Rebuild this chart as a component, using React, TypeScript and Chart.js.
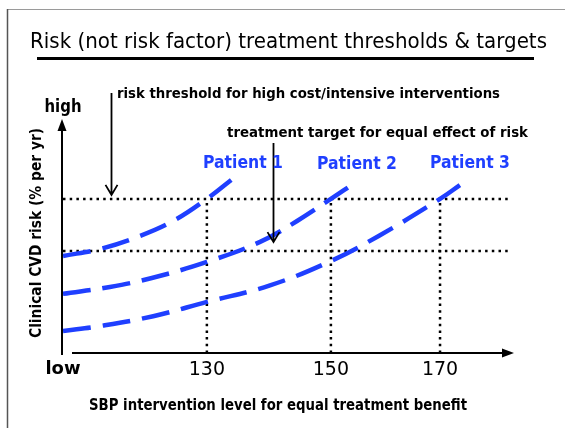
import React, { useEffect, useRef } from "react";
import { Chart, registerables } from "chart.js";

Chart.register(...registerables);

// ---------- texts ----------
const TITLE = "Risk (not risk factor) treatment thresholds & targets";
const X_TITLE = "SBP intervention level for equal treatment benefit";
const Y_TITLE = "Clinical CVD risk (% per yr)";
const Y_TOP_LABEL = "high";
const THRESHOLD_NOTE = "risk threshold for high cost/intensive interventions";
const TARGET_NOTE = "treatment target for equal effect of risk";

// ---------- axis ticks (x in relative position units 0..100) ----------
const xTickLabels = ["low", "130", "150", "170"];
const xTickPositions = [0, 31.9, 59.4, 83.6];

// ---------- risk levels (y in relative units 0..100) ----------
const highThreshold = 67.0;
const treatmentTarget = 44.3;
const thresholdLineEnd = 99.5;

// ---------- patient curves ----------
const patientNames = ["Patient 1", "Patient 2", "Patient 3"];
const patient1X = [0, 8.2, 17.1, 24.8, 31.9, 37.3];
const patient1Y = [42.2, 45.2, 50.9, 57.8, 67.0, 75.2];
const patient2X = [0, 10.4, 19.7, 31.9, 43.7, 51.9, 59.4, 64.1];
const patient2Y = [25.7, 28.7, 32.6, 39.6, 48.3, 57.4, 67.0, 73.2];
const patient3X = [0, 8.2, 20, 31.9, 45.9, 59.4, 70, 83.6, 88.0];
const patient3Y = [9.6, 11.7, 16.0, 22.2, 29.4, 40.0, 50.9, 67.0, 73.0];

// arrows' x positions (relative units)
const thresholdArrowX = 10.6;
const targetArrowX = 46.6;

const FONT = '"DejaVu Sans", "Lucida Grande", sans-serif';
const BLUE = "#1f3fff";

const zip = (xs: number[], ys: number[]) => xs.map((x, i) => ({ x, y: ys[i] }));

type TextOpts = {
  size: number;
  weight?: string;
  color?: string;
  align?: CanvasTextAlign;
  width?: number;
  baseline?: CanvasTextBaseline;
  rotate?: number;
};

function drawText(ctx: CanvasRenderingContext2D, text: string, x: number, y: number, o: TextOpts) {
  ctx.save();
  ctx.font = `${o.weight || "normal"} ${o.size}px ${FONT}`;
  ctx.fillStyle = o.color || "#000";
  ctx.textBaseline = o.baseline || "alphabetic";
  ctx.textAlign = o.align || "left";
  const w = ctx.measureText(text).width;
  const sx = o.width ? o.width / w : 1;
  ctx.translate(x, y);
  if (o.rotate) ctx.rotate(o.rotate);
  ctx.scale(sx, 1);
  ctx.fillText(text, 0, 0);
  ctx.restore();
}

function openArrow(ctx: CanvasRenderingContext2D, x: number, y1: number, y2: number) {
  ctx.save();
  ctx.strokeStyle = "#000";
  ctx.lineWidth = 1.8;
  ctx.beginPath();
  ctx.moveTo(x, y1);
  ctx.lineTo(x, y2);
  ctx.moveTo(x - 6, y2 - 10);
  ctx.lineTo(x, y2);
  ctx.lineTo(x + 6, y2 - 10);
  ctx.stroke();
  ctx.restore();
}

const overlayPlugin = {
  id: "overlay",
  afterDraw(chart: any) {
    const ctx: CanvasRenderingContext2D = chart.ctx;
    const xs = chart.scales.x;
    const ys = chart.scales.y;
    const area = chart.chartArea;

    // frame
    ctx.save();
    ctx.lineWidth = 1;
    ctx.strokeStyle = "#9a9a9a";
    ctx.beginPath();
    ctx.moveTo(7, 9.5);
    ctx.lineTo(565, 9.5);
    ctx.stroke();
    ctx.strokeStyle = "#555";
    ctx.lineWidth = 1.5;
    ctx.beginPath();
    ctx.moveTo(7.5, 9);
    ctx.lineTo(7.5, 428);
    ctx.stroke();
    ctx.restore();

    // title + underline
    drawText(ctx, TITLE, 30, 48, { size: 20.5, width: 517 });
    ctx.save();
    ctx.fillStyle = "#000";
    ctx.fillRect(37, 57, 497, 3);
    ctx.restore();

    // y axis with arrow
    const yAxisX = area.left - 1;
    ctx.save();
    ctx.strokeStyle = "#000";
    ctx.fillStyle = "#000";
    ctx.lineWidth = 2;
    ctx.beginPath();
    ctx.moveTo(yAxisX, area.bottom + 2);
    ctx.lineTo(yAxisX, area.top + 6);
    ctx.stroke();
    ctx.beginPath();
    ctx.moveTo(yAxisX, area.top - 4);
    ctx.lineTo(yAxisX - 4.5, area.top + 8);
    ctx.lineTo(yAxisX + 4.5, area.top + 8);
    ctx.closePath();
    ctx.fill();
    // x axis with arrow
    const xAxisY = area.bottom;
    ctx.beginPath();
    ctx.moveTo(area.left + 9, xAxisY);
    ctx.lineTo(area.right - 8, xAxisY);
    ctx.stroke();
    ctx.beginPath();
    ctx.moveTo(area.right, xAxisY);
    ctx.lineTo(area.right - 12, xAxisY - 4.5);
    ctx.lineTo(area.right - 12, xAxisY + 4.5);
    ctx.closePath();
    ctx.fill();
    ctx.restore();

    // labels
    drawText(ctx, Y_TOP_LABEL, yAxisX + 1, 112, { size: 18.5, weight: "bold", align: "center", width: 37 });
    drawText(ctx, Y_TITLE, 41, 233, {
      size: 15,
      weight: "bold",
      align: "center",
      width: 210,
      rotate: -Math.PI / 2,
    });
    drawText(ctx, X_TITLE, 89, 410, { size: 15.5, weight: "bold", width: 378 });

    // annotations with arrows
    drawText(ctx, THRESHOLD_NOTE, 117, 98, { size: 14.5, weight: "bold", width: 383 });
    drawText(ctx, TARGET_NOTE, 227, 137, { size: 14.5, weight: "bold", width: 301 });
    const ax1 = Math.round(xs.getPixelForValue(thresholdArrowX)) + 0.5;
    openArrow(ctx, ax1, 93, ys.getPixelForValue(highThreshold) - 4);
    const ax2 = Math.round(xs.getPixelForValue(targetArrowX)) + 0.5;
    openArrow(ctx, ax2, 143, ys.getPixelForValue(treatmentTarget) - 9);

    // patient labels
    const patientLabelLeft = [203, 317, 430];
    const patientLabelBase = [168, 169, 168];
    patientNames.forEach((name, i) => {
      drawText(ctx, name, patientLabelLeft[i], patientLabelBase[i], {
        size: 18,
        weight: "bold",
        color: BLUE,
        width: 80,
      });
    });
  },
};

const dotted = {
  borderColor: "#000",
  borderWidth: 2.5,
  borderDash: [2.5, 4.2],
  pointRadius: 0,
  tension: 0,
  fill: false,
};

const curve = {
  borderColor: BLUE,
  borderWidth: 4.5,
  borderDash: [28, 12],
  borderCapStyle: "butt" as const,
  pointRadius: 0,
  tension: 0.4,
  fill: false,
};

export default function App() {
  const ref = useRef<HTMLCanvasElement>(null);

  useEffect(() => {
    document.body.style.margin = "0";
    const canvas = ref.current!;
    const chart = new Chart(canvas, {
      type: "line",
      data: {
        datasets: [
          { label: patientNames[0], data: zip(patient1X, patient1Y), ...curve },
          { label: patientNames[1], data: zip(patient2X, patient2Y), ...curve },
          { label: patientNames[2], data: zip(patient3X, patient3Y), ...curve },
          {
            label: "high threshold",
            data: [
              { x: 0, y: highThreshold },
              { x: thresholdLineEnd, y: highThreshold },
            ],
            ...dotted,
          },
          {
            label: "treatment target",
            data: [
              { x: 0, y: treatmentTarget },
              { x: thresholdLineEnd, y: treatmentTarget },
            ],
            ...dotted,
          },
          ...xTickPositions.slice(1).map((p, i) => ({
            label: "SBP " + xTickLabels[i + 1],
            data: [
              { x: p, y: 0 },
              { x: p, y: highThreshold },
            ],
            ...dotted,
          })),
        ],
      },
      options: {
        responsive: false,
        animation: false,
        devicePixelRatio: 1,
        layout: { padding: { left: 63, right: 51, top: 123, bottom: 0 } },
        plugins: {
          legend: { display: false },
          tooltip: { enabled: false },
          title: { display: false },
        },
        scales: {
          x: {
            type: "linear",
            min: 0,
            max: 100,
            grid: { display: false, drawTicks: false },
            border: { display: false },
            afterBuildTicks: (axis: any) => {
              axis.ticks = xTickPositions.map((v) => ({ value: v }));
            },
            afterFit: (axis: any) => {
              axis.height = 75;
            },
            ticks: {
              autoSkip: false,
              maxRotation: 0,
              minRotation: 0,
              padding: 6,
              color: "#000",
              font: (c: any) =>
                c.index === 0
                  ? { family: FONT, size: 18, weight: "bold" }
                  : { family: FONT, size: 19, weight: "normal" },
              callback: (_v: any, i: number) => xTickLabels[i],
            },
          },
          y: {
            type: "linear",
            min: 0,
            max: 100,
            display: false,
          },
        },
      },
      plugins: [overlayPlugin],
    } as any);
    return () => chart.destroy();
  }, []);

  return (
    <div style={{ position: "fixed", left: 0, top: 0, width: 565, height: 428, background: "#fff" }}>
      <canvas ref={ref} width={565} height={428} style={{ display: "block", width: 565, height: 428 }} />
    </div>
  );
}
